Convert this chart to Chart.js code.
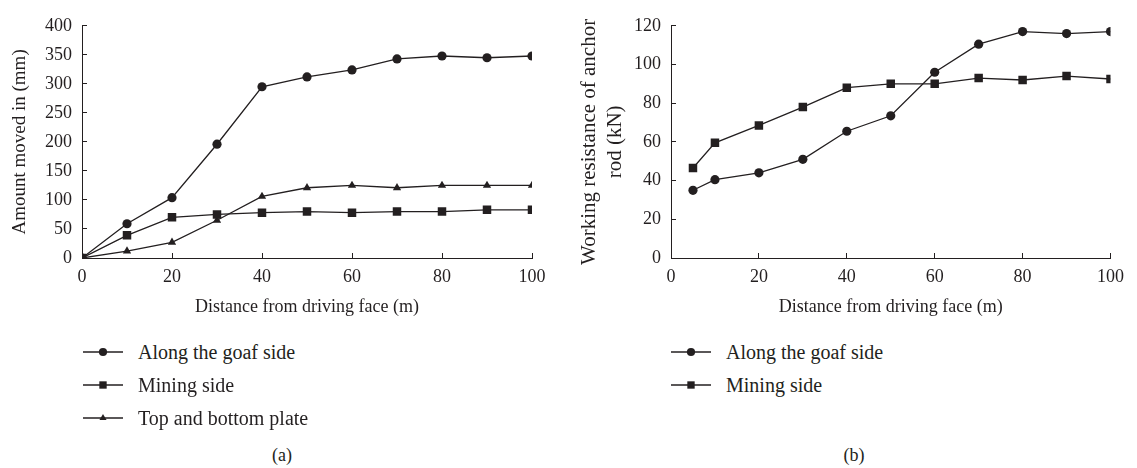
<!DOCTYPE html>
<html>
<head>
<meta charset="utf-8">
<script src="https://cdn.jsdelivr.net/npm/chart.js@4/dist/chart.umd.min.js"></script>
<style>
    body { margin: 0; background: #fff; }
    #page { position: relative; width: 1137px; height: 468px; font-family: 'Liberation Serif', 'Times New Roman', serif; color: #231f20; }
    .box { position: absolute; top: 0; height: 320px; }
    .legend-row { position: absolute; display: flex; align-items: center; height: 33px; font-size: 20px; }
    .legend-row span { margin-left: 15px; }
    .sub { position: absolute; font-size: 18px; transform: translate(-50%, -50%); }
</style>
</head>
<body>
<div id="page">
    <div class="box" style="left:0; width:560px;"><canvas id="chartA"></canvas></div>
    <div class="box" style="left:560px; width:577px;"><canvas id="chartB"></canvas></div>
    <div class="sub" style="left:282px; top:455px;">(a)</div>
    <div class="sub" style="left:854px; top:455px;">(b)</div>
</div>
<script>
// (a) displacement of roadway surfaces
const distA = [0, 10, 20, 30, 40, 50, 60, 70, 80, 90, 100];
const goafA = [0, 59, 104, 196, 295, 312, 324, 343, 348, 345, 348];
const miningA = [0, 39, 70, 75, 78, 80, 78, 80, 80, 83, 83];
const plateA = [0, 12, 27, 65, 106, 121, 125, 121, 125, 125, 125];

// (b) working resistance of anchor rod
const distB = [5, 10, 20, 30, 40, 50, 60, 70, 80, 90, 100];
const goafB = [35, 40.5, 44, 51, 65.5, 73.5, 96, 110.5, 117, 116, 117];
const miningB = [46.5, 59.5, 68.5, 78, 88, 90, 90, 93, 92, 94, 92.5];

const labelGoaf = 'Along the goaf side';
const labelMining = 'Mining side';
const labelPlate = 'Top and bottom plate';

const ink = '#231f20';
const serif = "'Liberation Serif', 'Times New Roman', serif";

function pairs(xs, ys) {
    return xs.map((x, i) => ({ x: x, y: ys[i] }));
}

function series(label, xs, ys, style, radius, order) {
    return {
        label: label,
        data: pairs(xs, ys),
        borderColor: ink,
        backgroundColor: ink,
        borderWidth: 1.3,
        pointStyle: style,
        pointRadius: radius,
        pointBorderWidth: 0,
        pointBackgroundColor: ink,
        tension: 0,
        order: order
    };
}

function axisOptions(min, max, step, title, yWidth, titleOpts) {
    return {
        x: {
            type: 'linear',
            min: 0, max: 100,
            border: { display: true, color: ink, width: 1 },
            grid: { drawOnChartArea: false, color: ink, tickLength: -5, lineWidth: 1 },
            ticks: { stepSize: 20, color: ink, font: { family: serif, size: 18 }, padding: 13, maxRotation: 0 },
            title: { display: true, text: 'Distance from driving face (m)', color: ink,
                     font: { family: serif, size: 18 }, padding: { top: 0, bottom: 2 } },
            afterFit: s => { s.height = 62; }
        },
        y: {
            type: 'linear',
            min: min, max: max,
            border: { display: true, color: ink, width: 1 },
            grid: { drawOnChartArea: false, color: ink, tickLength: -5, lineWidth: 1 },
            ticks: { stepSize: step, color: ink, font: { family: serif, size: 18 }, padding: 15 },
            title: Object.assign({ display: true, text: title, color: ink }, titleOpts),
            afterFit: s => { s.width = yWidth; }
        }
    };
}

function makeChart(id, datasets, scales, padding) {
    return new Chart(document.getElementById(id), {
        type: 'line',
        data: { datasets: datasets },
        options: {
            responsive: true,
            maintainAspectRatio: false,
            animation: false,
            layout: { padding: padding },
            plugins: { legend: { display: false }, tooltip: { enabled: false } },
            scales: scales
        }
    });
}

const setsA = [
    series(labelGoaf, distA, goafA, 'circle', 4.6, 1),
    series(labelMining, distA, miningA, 'rect', 6, 0),
    series(labelPlate, distA, plateA, 'triangle', 4.8, 2)
];
const setsB = [
    series(labelGoaf, distB, goafB, 'circle', 4.6, 1),
    series(labelMining, distB, miningB, 'rect', 6, 0)
];

const chartA = makeChart('chartA', setsA,
    axisOptions(0, 400, 50, 'Amount moved in (mm)', 82,
        { font: { family: serif, size: 19 }, padding: { top: 9, bottom: 0 } }),
    { top: 14, right: 28, left: 0, bottom: 0 });

const chartB = makeChart('chartB', setsB,
    axisOptions(0, 120, 20, ['Working resistance of anchor', 'rod (kN)'], 111,
        { font: { family: serif, size: 21, lineHeight: 1.25 }, padding: { top: 16, bottom: 0 } }),
    { top: 17, right: 19, left: 0, bottom: 0 });

// legends built from the chart datasets, drawn with the same point styles
function buildLegend(chart, left, firstCenter) {
    const page = document.getElementById('page');
    chart.data.datasets.forEach((ds, i) => {
        const row = document.createElement('div');
        row.className = 'legend-row';
        row.style.left = left + 'px';
        row.style.top = (firstCenter + i * 33 - 16.5) + 'px';
        const c = document.createElement('canvas');
        c.width = 40; c.height = 14;
        const ctx = c.getContext('2d');
        ctx.strokeStyle = ink;
        ctx.lineWidth = 1.3;
        ctx.beginPath();
        ctx.moveTo(0, 7); ctx.lineTo(40, 7);
        ctx.stroke();
        ctx.fillStyle = ink;
        Chart.helpers.drawPoint(ctx, {
            pointStyle: ds.pointStyle,
            radius: ds.pointStyle === 'rect' ? 5.2 : 4.1,
            borderWidth: 0,
            rotation: 0
        }, 20, 7);
        const t = document.createElement('span');
        t.textContent = ds.label;
        row.appendChild(c);
        row.appendChild(t);
        page.appendChild(row);
    });
}

buildLegend(chartA, 83, 352);
buildLegend(chartB, 671, 352);
</script>
</body>
</html>
